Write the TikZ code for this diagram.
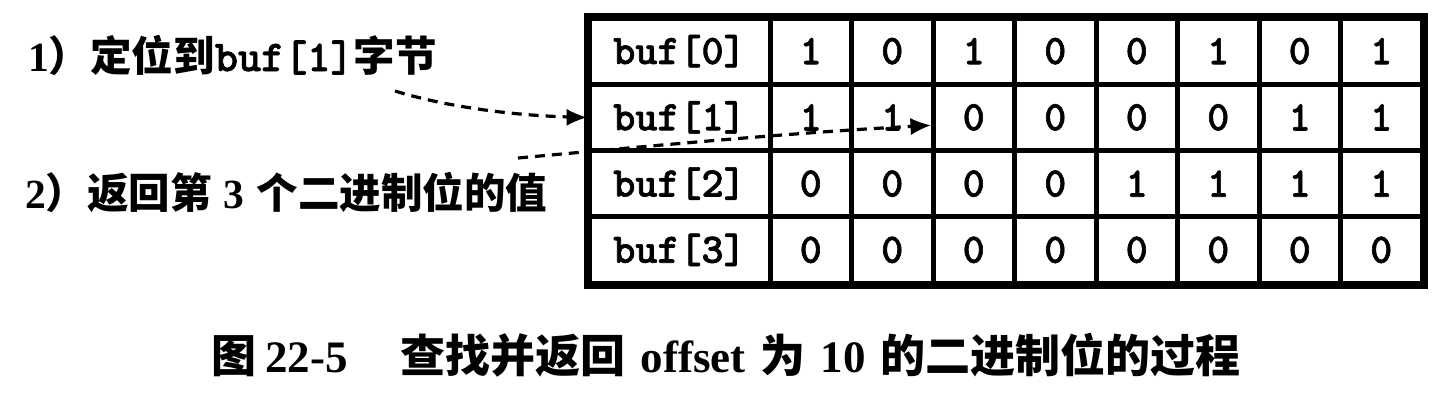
\documentclass[tikz,border=0pt]{standalone}
\usepackage{fontspec}
\setmainfont{Liberation Serif}
\newfontfamily\cjk{Noto Sans CJK SC}
\newfontfamily\monof{lmmonolt10-bold}[Extension=.otf,FakeBold=1.5]
\usetikzlibrary{arrows.meta,calc}
\newcommand{\zh}[1]{{\cjk\bfseries #1}}
\newcommand{\tm}[1]{{\bfseries #1}}
\newcommand{\mo}[1]{{\monof #1}}
\begin{document}
\begin{tikzpicture}[x=1pt,y=-1pt,
  cellbox/.style={draw,line width=5pt,rectangle,inner sep=0pt,minimum height=66.25pt,font=\fontsize{42}{44}\selectfont\monof},
  labcell/.style={cellbox,minimum width=181pt},
  bitcell/.style={cellbox,minimum width=81.5pt},
  dashline/.style={line width=3.2pt,dash pattern=on 10pt off 7pt,shorten >=12pt},
  tiponly/.style={line width=1pt,solid,-{Latex[length=20pt,width=17pt]}},
  txt/.style={inner sep=0pt,anchor=west,font=\fontsize{41.5}{44}\selectfont}
]
\useasboundingbox (0,0) rectangle (1444,402);
\fill[white] (0,0) rectangle (1444,402);
% table
\foreach \r/\lab/\bits in {0/0/{1,0,1,0,0,1,0,1},1/1/{1,1,0,0,0,0,1,1},2/2/{0,0,0,0,1,1,1,1},3/3/{0,0,0,0,0,0,0,0}}{
  \node[labcell] (L\r) at (679.5,{51.125+66.25*\r}) {buf[\lab]};
  \foreach \b [count=\c from 0] in \bits {
    \node[bitcell] (B\r\c) at ({770+81.5*\c+40.75},{51.125+66.25*\r}) {\b};
  }
}
\draw[line width=6pt] (L0.north west) rectangle (B37.south east);
% texts
\node[txt] (t1) at (28,55) {\tm{1}\zh{）定位到}{\fontsize{44}{44}\selectfont\mo{buf[1]}}\zh{字节}};
\node[txt] (t2) at (25,192) {\tm{2}\zh{）返回第}\hspace{12pt}\tm{3}\hspace{12pt}\zh{个二进制位的值}};
\node[inner sep=0pt,font=\fontsize{45}{48}\selectfont] (cap) at (726,355) {\zh{图}\hspace{9pt}\tm{22-5}\hspace{53pt}\zh{查找并返回}\hspace{15pt}\tm{offset}\hspace{15pt}\zh{为}\hspace{15pt}\tm{10}\hspace{15pt}\zh{的二进制位的过程}};
% arrows
\coordinate (s1) at (395,91);
\coordinate (s2) at (518,158);
\coordinate (e2) at ($(B12.west)+(0,8)$);
\draw[dashline] (s1) .. controls (450,108) and (520,116) .. (L1.west);
\draw[tiponly] ($(L1.west)+(-3,0)$) -- (L1.west);
\draw[dashline] (s2) .. controls (650,146) and (800,132) .. (e2);
\draw[tiponly] ($(e2)+(-6,0.33)$) -- (e2);
\end{tikzpicture}
\end{document}
